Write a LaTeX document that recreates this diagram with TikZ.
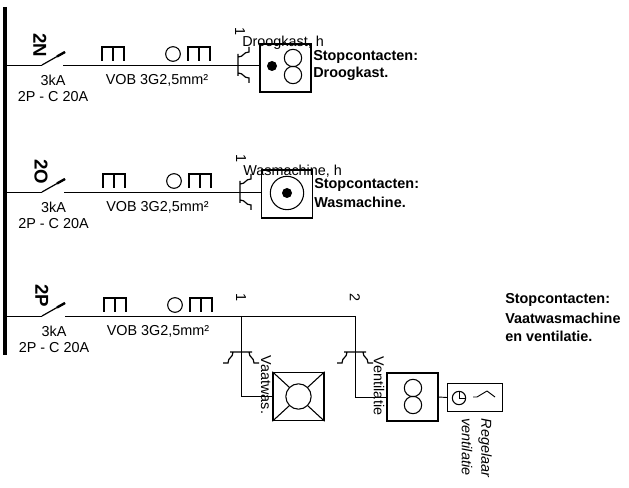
\documentclass[tikz,border=0pt]{standalone}
\usepackage{fontspec}
\setmainfont{Liberation Sans}
\usetikzlibrary{positioning}
\tikzset{
    wire/.style={line width=0.7pt},
    devbox/.style={draw, line width=1.1pt, minimum width=38pt, minimum height=36pt, inner sep=0pt},
    ring/.style={draw, circle, line width=0.8pt, inner sep=0pt},
    spot/.style={fill, circle, inner sep=0pt, minimum size=7.5pt},
    lbl/.style={font=\fontsize{10.8}{12}\selectfont, inner sep=0pt},
    boldlbl/.style={font=\fontsize{10.8}{12}\selectfont\bfseries, inner sep=0pt, anchor=west},
    sidelbl/.style={font=\fontsize{10.8}{12}\selectfont, inner sep=0pt, rotate=-90},
    cable/.pic={\draw[line width=0.8pt] (0,0) -- (0,-14) -- (22,-14) -- (22,0) (11,0) -- (11,-14);},
    breaker/.pic={\draw[line width=0.9pt] (0,-11) -- (0,11)
        (0,-8) .. controls (6,-8) and (5,-13) .. (11,-13) -- (11,-18)
        (0,8) .. controls (6,8) and (5,13) .. (11,13) -- (11,18);},
}
\begin{document}
\begin{tikzpicture}[x=0.75pt, y=-0.75pt]
    \useasboundingbox (0,0) rectangle (629,488);
    % bus bar
    \coordinate (bustop) at (5,7);
    \coordinate (busend) at (5,355);
    \draw[line width=3pt] (bustop) -- (busend);

    % the three feeders
    \foreach \nr/\ypos/\dx/\tag in {n/65/0/2N, o/192/1/2O, p/316/2/2P} {
        \coordinate (bus\nr) at (5,\ypos);
        \coordinate (sw\nr) at (42,\ypos);
        \coordinate (tip\nr) at (65,\ypos-13);
        \coordinate (grip\nr) at (57,\ypos-8.5);
        \coordinate (out\nr) at (63+\dx,\ypos);
        \draw[wire] (bus\nr) -- (sw\nr);
        \draw[line width=0.9pt] (sw\nr) -- (tip\nr);
        \draw[line width=1.8pt] (grip\nr) -- (tip\nr);
        \node[font=\fontsize{14}{15}\selectfont\bfseries, rotate=-90, inner sep=0pt] (tag\nr) at (40+\dx,\ypos-20) {\tag};
        \node[lbl] (ka\nr) at (53+\dx/2,\ypos+15) {3kA};
        \node[lbl] (curve\nr) at (53+\dx/2,\ypos+32) {2P - C 20A};
        \node[lbl] (vob\nr) at (157+\dx/2,\ypos+15) {VOB 3G2,5mm²};
        \pic at (102+\dx,\ypos-4) {cable};
        \node[ring, minimum size=11pt] (loop\nr) at (173+\dx,\ypos-11) {};
        \pic at (188+\dx,\ypos-4) {cable};
    }

    % Droogkast
    \node[devbox] (droog) at (285.5,68) {};
    \node[spot] (droogdot) at (272,66) {};
    \node[ring, minimum size=13pt] (drooga) at (293,58) {};
    \node[ring, minimum size=13pt] (droogb) at (293,75) {};
    \draw[wire] (outn) -- (outn -| droog.west);
    \pic at (238,65) {breaker};
    \node[sidelbl] (droognr) at (240,32) {1};
    \node[lbl, anchor=west] (droogname) at (242,43) {Droogkast, h};
    \node[boldlbl] (droogtxa) at (313,57) {Stopcontacten:};
    \node[boldlbl] (droogtxb) at (313,74) {Droogkast.};

    % Wasmachine
    \node[devbox] (was) at (287,194) {};
    \node[ring, minimum size=25pt] (wasring) at (287,193) {};
    \node[spot] (wasdot) at (287,193) {};
    \draw[wire] (outo) -- (outo -| was.west);
    \pic at (240,192) {breaker};
    \node[sidelbl] (wasnr) at (241,159) {1};
    \node[lbl, anchor=west] (wasname) at (243,171) {Wasmachine, h};
    \node[boldlbl] (wastxa) at (314,185) {Stopcontacten:};
    \node[boldlbl] (wastxb) at (314,202) {Wasmachine.};

    % Vaatwasmachine
    \coordinate (vaatjoin) at (241,316);
    \coordinate (ventjoin) at (355,316);
    \node[sidelbl] (vaatnr) at (241,298) {1};
    \node[sidelbl] (ventnr) at (355,298) {2};
    \draw[wire] (outp) -- (ventjoin);
    \node[devbox] (vaat) at (298.5,396.5) {};
    \node[ring, minimum size=19pt] (vaatring) at (298.5,396.5) {};
    \draw[wire] (vaatjoin) |- (vaat.west);
    \pic[rotate=-90] at (241,352) {breaker};
    \draw[line width=0.8pt] (vaat.north west) -- (vaatring.north west)
        (vaat.north east) -- (vaatring.north east)
        (vaat.south west) -- (vaatring.south west)
        (vaat.south east) -- (vaatring.south east);
    \node[sidelbl] (vaatname) at (266,385) {Vaatwas.};

    % Ventilatie
    \node[devbox] (vent) at (412.5,397) {};
    \node[ring, minimum size=13pt] (venta) at (413,388) {};
    \node[ring, minimum size=13pt] (ventb) at (413,405) {};
    \draw[wire] (ventjoin) |- (vent.west);
    \pic[rotate=-90] at (355,352) {breaker};
    \node[sidelbl] (ventname) at (379,386) {Ventilatie};

    % Regelaar
    \node[draw, line width=1.1pt, minimum width=41pt, minimum height=21pt, inner sep=0pt] (regel) at (475,397.5) {};
    \draw[wire] (vent.east) -- (regel.west);
    \node[ring, minimum size=10pt] (klok) at (459,398) {};
    \draw[line width=0.7pt] (klok.center) -- (klok.north) (klok.center) -- (klok.east);
    \coordinate (swa) at (473,397);
    \coordinate (swb) at (477,397);
    \coordinate (swc) at (487,391);
    \coordinate (swd) at (495,397);
    \draw[line width=0.7pt] (swa) -- (swb) (swb) -- (swc) (swc) -- (swd);
    \node[sidelbl, font=\fontsize{10.8}{12}\selectfont\itshape] (regelname) at (485,448) {Regelaar};
    \node[sidelbl, font=\fontsize{10.8}{12}\selectfont\itshape] (regelnamb) at (467,447) {ventilatie};

    % text on the right
    \node[boldlbl] (vaattxa) at (505,300) {Stopcontacten:};
    \node[boldlbl] (vaattxb) at (505,318) {Vaatwasmachine};
    \node[boldlbl] (vaattxc) at (505,336) {en ventilatie.};
\end{tikzpicture}
\end{document}
